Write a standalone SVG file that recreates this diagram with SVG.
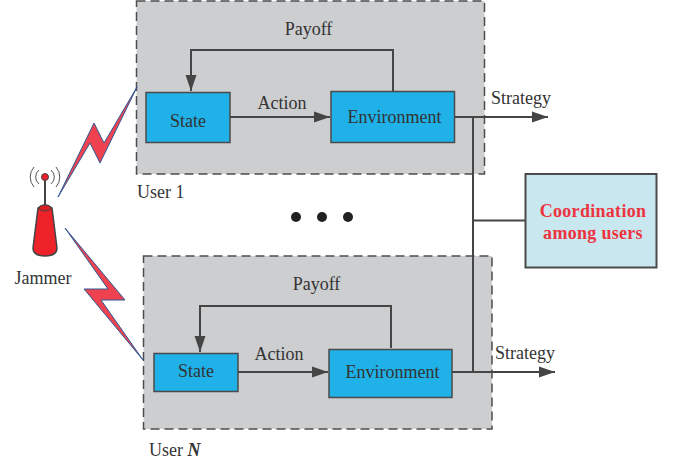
<svg xmlns="http://www.w3.org/2000/svg" width="677" height="464" viewBox="0 0 677 464">
<style>
text{font-family:"Liberation Serif","Times New Roman",serif;font-size:18px;fill:#333}
.m{text-anchor:middle}
.u{fill:#cdced0;stroke:#4d4d4d;stroke-width:1.5;stroke-dasharray:9 5}
.b{fill:#1fb1e8;stroke:#4a4a4a;stroke-width:1.5}
.c{fill:none;stroke:#454545;stroke-width:2}
.z{fill:#ee4250;stroke:#2f5a94;stroke-width:1}
.w{fill:none;stroke:#555;stroke-width:1}
</style>
<defs><marker id="a" markerUnits="userSpaceOnUse" markerWidth="17" markerHeight="12" refX="16" refY="6" orient="auto"><path d="M0 0.500L16 6L0 11.500Z" fill="#454545"/></marker></defs>
<g id="user1"><rect class="u" x="136.500" y="1" width="348" height="173"/><text x="137" y="198">User 1</text></g>
<g id="userN"><rect class="u" x="143.500" y="256" width="348.500" height="173"/><text x="149" y="456">User <tspan font-weight="bold" font-style="italic">N</tspan></text></g>
<g id="connectors">
<path class="c" d="M393 92V50H191V91" marker-end="url(#a)"/>
<path class="c" d="M230 117H330" marker-end="url(#a)"/>
<path class="c" d="M455 117H548" marker-end="url(#a)"/>
<path class="c" d="M391 348V306H200V352" marker-end="url(#a)"/>
<path class="c" d="M238 372H328" marker-end="url(#a)"/>
<path class="c" d="M452 372H555" marker-end="url(#a)"/>
<path class="c" d="M473 117V372M473 220.500H526"/>
</g>
<g id="state1"><rect class="b" x="146" y="92.500" width="84" height="50"/><text class="m" x="188" y="127">State</text></g>
<g id="env1"><rect class="b" x="331" y="91.500" width="123.500" height="51"/><text class="m" x="394.500" y="123">Environment</text></g>
<g id="stateN"><rect class="b" x="154" y="353.500" width="84" height="38"/><text class="m" x="196" y="377">State</text></g>
<g id="envN"><rect class="b" x="329" y="349.500" width="123" height="48"/><text class="m" x="392.500" y="378">Environment</text></g>
<g id="labels">
<text class="m" x="308.500" y="35">Payoff</text><text class="m" x="282" y="109">Action</text><text x="491" y="104">Strategy</text>
<text class="m" x="316.500" y="290">Payoff</text><text class="m" x="279" y="360">Action</text><text x="495" y="359">Strategy</text>
</g>
<g id="coordination"><rect x="525.500" y="174" width="131" height="93.500" fill="#c8e7ee" stroke="#4a4a4a" stroke-width="2"/><text class="m" x="593" y="217" style="fill:#ee3340;font-weight:bold;letter-spacing:.3px">Coordination</text><text class="m" x="593" y="239" style="fill:#ee3340;font-weight:bold;letter-spacing:.3px">among users</text></g>
<g id="dots"><circle cx="296" cy="217" r="5" fill="#222"/><circle cx="322" cy="217" r="5" fill="#222"/><circle cx="348" cy="217" r="5" fill="#222"/></g>
<g id="jammer">
<path d="M45 176V206" stroke="#444" stroke-width="2" fill="none"/>
<circle cx="45" cy="177" r="3.500" fill="#e8212a" stroke="#444"/>
<path class="w" d="M39 170a9 9 0 0 0 0 14M51 170a9 9 0 0 1 0 14M34 167a15 15 0 0 0 0 20M56 167a15 15 0 0 1 0 20"/>
<path d="M38 208Q45 202 52 208L57 248Q57 256 45 256Q33 256 33 248Z" fill="#ee2229" stroke="#444" stroke-width="1.500"/>
<ellipse cx="45" cy="208" rx="6" ry="3" fill="#d81f26" stroke="#444"/>
<text class="m" x="43" y="284">Jammer</text>
</g>
<g id="bolts">
<path class="z" d="M58 197L94 123L104 143L137 87L100 163L90 143Z"/>
<path class="z" d="M65 228L125 300L101 300L143 360L84 289L108 289Z"/>
</g>
</svg>
